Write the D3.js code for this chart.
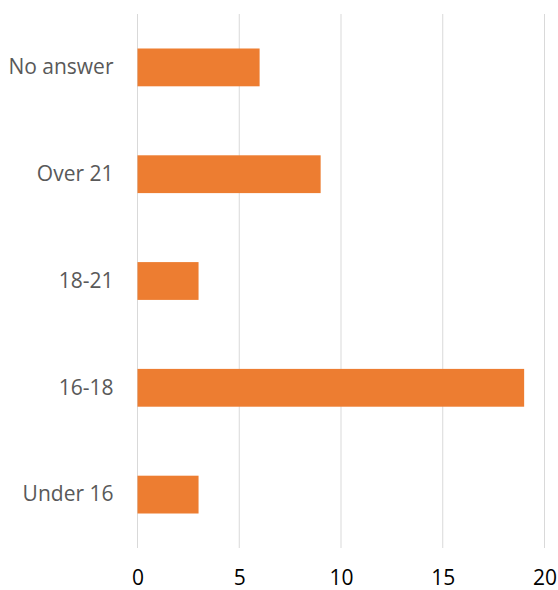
<!DOCTYPE html>
<html>
<head>
<meta charset="utf-8">
<script src="https://cdn.jsdelivr.net/npm/d3@7"></script>
<style>
  body { margin: 0; background: #fff; }
  svg { display: block; }
</style>
</head>
<body>
<svg id="chart" width="558" height="590"></svg>
<script>
const categories = ["No answer", "Over 21", "18-21", "16-18", "Under 16"];
const values = [6, 9, 3, 19, 3];
const xTicks = [0, 5, 10, 15, 20];

(function () {
const svg = d3.select("#chart");
const mLeft = 137.5, mRight = 544.5, mTop = 14, mBottom = 548;

const x = d3.scaleLinear().domain([0, 20]).range([mLeft, mRight]);
const y = d3.scaleBand().domain(categories).range([mTop, mBottom])
  .paddingInner(0.646).paddingOuter(0.323);

const font = "'Open Sans', 'Liberation Sans', sans-serif";

svg.append("g").selectAll("line").data(xTicks).join("line")
  .attr("x1", d => x(d)).attr("x2", d => x(d))
  .attr("y1", mTop).attr("y2", mBottom)
  .attr("stroke", "#d9d9d9").attr("stroke-width", 1);

svg.append("g").selectAll("rect").data(categories).join("rect")
  .attr("x", x(0))
  .attr("y", d => y(d))
  .attr("width", (d, i) => x(values[i]) - x(0))
  .attr("height", y.bandwidth())
  .attr("fill", "#ed7d31");

const xAxis = svg.append("g").attr("transform", `translate(0,${mBottom})`)
  .call(d3.axisBottom(x).tickValues(xTicks).tickSize(0).tickPadding(22));
xAxis.select(".domain").remove();
xAxis.selectAll("text").attr("font-family", font).attr("font-size", 21).attr("fill", "#000");

const yAxis = svg.append("g").attr("transform", `translate(${mLeft},0)`)
  .call(d3.axisLeft(y).tickSize(0).tickPadding(24));
yAxis.select(".domain").remove();
yAxis.selectAll("text").attr("font-family", font).attr("font-size", 21).attr("fill", "#595959");
})();
</script>
</body>
</html>
